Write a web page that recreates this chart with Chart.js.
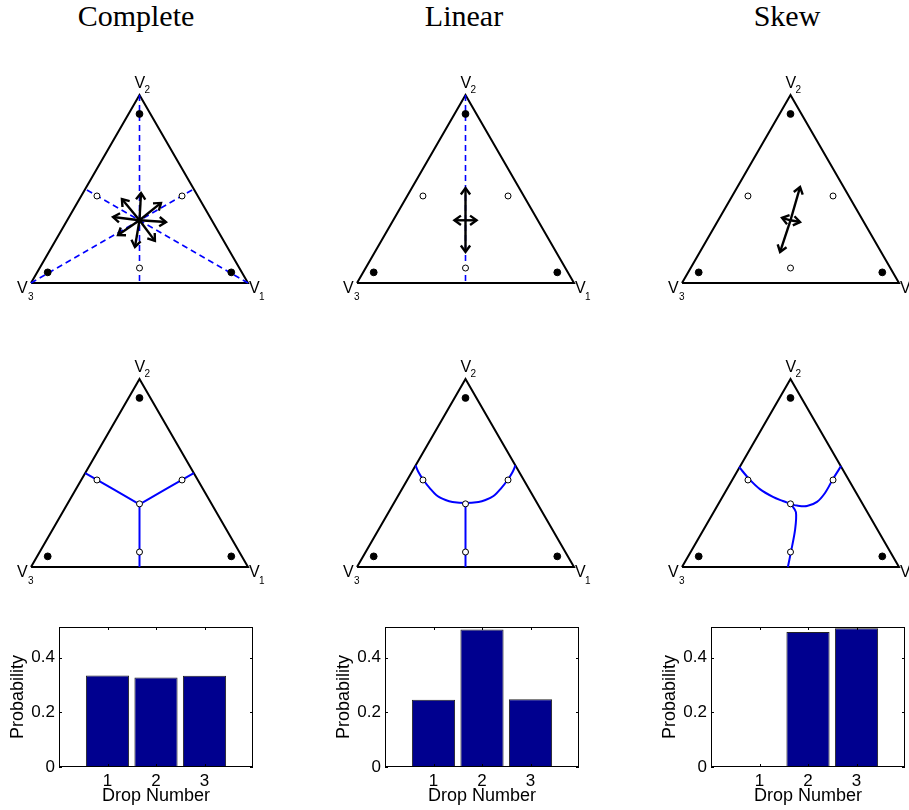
<!DOCTYPE html>
<html>
<head>
<meta charset="utf-8">
<script src="https://cdn.jsdelivr.net/npm/chart.js@4.4.0/dist/chart.umd.min.js"></script>
<style>
  body { margin: 0; background: #fff; }
  #fig { position: relative; width: 909px; height: 810px; overflow: hidden; background: #fff; }
  .title { position: absolute; top: -1px; width: 300px; text-align: center; font-family: "Liberation Serif", serif; font-size: 30px; line-height: 34px; color: #000; }
  canvas { position: absolute; }
</style>
</head>
<body>
<div id="fig">
  <div class="title" style="left:-14px">Complete</div>
  <div class="title" style="left:314px">Linear</div>
  <div class="title" style="left:637px">Skew</div>
</div>
<script>
// ---- data (triangle coords: V3=(0,0), V1=(1,0), V2=(0.5,0.866)) ----
const vertices = [[0, 0], [1, 0], [0.5, 0.866], [0, 0]];
const centroid = [0.5, 0.289];
const cornerDots = [[0.5, 0.779], [0.077, 0.049], [0.923, 0.049]];
const sampleCircles = [[0.304, 0.401], [0.696, 0.401], [0.5, 0.069]];
const sampleCirclesRow2 = [[0.304, 0.401], [0.696, 0.401], [0.5, 0.069], [0.5, 0.291]];

const completeMedians = [[[0.5, 0.866], [0.5, 0]], [[0, 0], [0.75, 0.433]], [[1, 0], [0.25, 0.433]]];
const linearMedians = [[[0.5, 0.866], [0.5, 0]]];

// arrow tips, each arrow drawn from the centroid
const completeArrows = [[0.507, 0.415], [0.419, 0.387], [0.599, 0.369], [0.378, 0.304],
                        [0.622, 0.281], [0.401, 0.221], [0.479, 0.166], [0.571, 0.194]];
const linearArrows = [[0.5, 0.438], [0.5, 0.143], [0.449, 0.289], [0.551, 0.289]];
const skewArrows = [[0.544, 0.442], [0.452, 0.143], [0.461, 0.300], [0.544, 0.281]];

// decision boundaries (second row)
const completeBoundary = [[[0.5, 0.289], [0.25, 0.433]], [[0.5, 0.289], [0.75, 0.433]], [[0.5, 0.289], [0.5, 0]]];
const linearBoundary = [
  [[0.27, 0.468], [0.283, 0.438], [0.306, 0.401], [0.339, 0.359], [0.371, 0.327], [0.408, 0.309], [0.44, 0.300],
   [0.5, 0.295], [0.56, 0.300], [0.592, 0.309], [0.629, 0.327], [0.661, 0.359], [0.694, 0.401], [0.717, 0.438], [0.73, 0.468]],
  [[0.5, 0.295], [0.5, 0]]
];
const skewBoundary = [
  [[0.263, 0.461], [0.309, 0.406], [0.359, 0.359], [0.419, 0.323], [0.465, 0.304], [0.502, 0.290]],
  [[0.502, 0.290], [0.530, 0.283], [0.576, 0.281], [0.622, 0.300], [0.659, 0.341], [0.696, 0.406], [0.733, 0.465]],
  [[0.502, 0.290], [0.525, 0.253], [0.521, 0.171], [0.502, 0.069], [0.488, 0]]
];

// bar charts
const dropNumbers = [1, 2, 3];
const probTicks = [0, 0.2, 0.4];
const completeProb = [0.335, 0.327, 0.334];
const linearProb = [0.246, 0.503, 0.248];
const skewProb = [0.003, 0.494, 0.507];

const fig = document.getElementById('fig');
const S = 217; // px per unit of triangle side

function makeCanvas(left, top, w, h) {
  const c = document.createElement('canvas');
  c.width = w; c.height = h;
  c.style.left = left + 'px'; c.style.top = top + 'px';
  fig.appendChild(c);
  return c;
}

const pts = a => a.map(p => ({ x: p[0], y: p[1] }));

const triPlugin = {
  id: 'tri',
  afterDatasetsDraw(chart, args, opts) {
    const { ctx, scales: { x, y } } = chart;
    const cx = x.getPixelForValue(centroid[0]), cy = y.getPixelForValue(centroid[1]);
    ctx.save();
    ctx.strokeStyle = '#000';
    ctx.lineWidth = 2.4;
    ctx.lineJoin = 'miter';
    (opts.arrows || []).forEach(t => {
      const px = x.getPixelForValue(t[0]), py = y.getPixelForValue(t[1]);
      const a = Math.atan2(py - cy, px - cx);
      ctx.beginPath();
      ctx.moveTo(px - 8 * Math.cos(a - 0.62), py - 8 * Math.sin(a - 0.62));
      ctx.lineTo(px, py);
      ctx.lineTo(px - 8 * Math.cos(a + 0.62), py - 8 * Math.sin(a + 0.62));
      ctx.stroke();
    });
    // vertex labels
    ctx.fillStyle = '#000';
    const lab = (v, sub, dx, dy, sdx, sdy) => {
      const px = x.getPixelForValue(v[0]), py = y.getPixelForValue(v[1]);
      ctx.font = '16px "Liberation Sans", Arial, sans-serif';
      ctx.textAlign = 'left'; ctx.textBaseline = 'alphabetic';
      ctx.fillText('V', px + dx, py + dy);
      ctx.font = '10px "Liberation Sans", Arial, sans-serif';
      ctx.fillText(sub, px + sdx, py + sdy);
    };
    lab(vertices[0], '3', -14, 10, -3, 17);
    lab(vertices[1], '1', 1, 10, 11, 17);
    lab(vertices[2], '2', -5, -7, 5, -2);
    ctx.restore();
  }
};

function triangleChart(left, bottom, cfg) {
  const canvas = makeCanvas(left - 30, bottom - 230, 300, 270);
  const datasets = [];
  datasets.push({ data: pts(cornerDots), pointRadius: 3.4, pointBackgroundColor: '#000', pointBorderColor: '#000', showLine: false });
  datasets.push({ data: pts(cfg.circles), pointRadius: 3, pointBackgroundColor: '#fff', pointBorderColor: '#000', pointBorderWidth: 1, showLine: false });
  (cfg.arrows || []).forEach(t => datasets.push({ data: pts([centroid, t]), showLine: true, borderColor: '#000', borderWidth: 2.4, pointRadius: 0 }));
  (cfg.curves || []).forEach(c => datasets.push({ data: pts(c), showLine: true, borderColor: '#0000ff', borderWidth: 2, pointRadius: 0, tension: 0.3 }));
  (cfg.medians || []).forEach(m => datasets.push({ data: pts(m), showLine: true, borderColor: '#0000ff', borderWidth: 1.6, borderDash: [6, 4], pointRadius: 0 }));
  datasets.push({ data: pts(vertices), showLine: true, borderColor: '#000', borderWidth: 2, borderJoinStyle: 'miter', pointRadius: 0 });

  new Chart(canvas, {
    type: 'scatter',
    data: { datasets },
    options: {
      responsive: false,
      animation: false,
      layout: { padding: 0, autoPadding: false },
      plugins: { legend: { display: false }, tooltip: { enabled: false }, tri: { arrows: cfg.arrows } },
      scales: {
        x: { type: 'linear', display: false, min: -30 / S, max: 270 / S },
        y: { type: 'linear', display: false, min: -40 / S, max: 230 / S }
      }
    },
    plugins: [triPlugin]
  });
}

const boxPlugin = {
  id: 'box',
  afterDraw(chart) {
    const { ctx, chartArea: a, scales: { x, y } } = chart;
    ctx.save();
    ctx.strokeStyle = '#000';
    ctx.lineWidth = 1;
    ctx.strokeRect(Math.round(a.left) + 0.5, Math.round(a.top) + 0.5, Math.round(a.right - a.left) - 1, Math.round(a.bottom - a.top) - 1);
    ctx.beginPath();
    x.ticks.forEach(t => {
      const p = Math.round(x.getPixelForValue(t.value)) + 0.5;
      ctx.moveTo(p, a.bottom); ctx.lineTo(p, a.bottom - 3);
      ctx.moveTo(p, a.top); ctx.lineTo(p, a.top + 3);
    });
    y.ticks.forEach(t => {
      const p = Math.round(y.getPixelForValue(t.value)) + 0.5;
      ctx.moveTo(a.left, p); ctx.lineTo(a.left + 3, p);
      ctx.moveTo(a.right, p); ctx.lineTo(a.right - 3, p);
    });
    ctx.stroke();
    ctx.restore();
  }
};

const axFont = { family: '"Liberation Sans", Arial, sans-serif', size: 17 };
const titleFont = { family: '"Liberation Sans", Arial, sans-serif', size: 18 };

function barChart(axLeft, values) {
  const canvas = makeCanvas(axLeft - 59, 610, 256, 200);
  new Chart(canvas, {
    type: 'bar',
    data: {
      datasets: [{
        data: dropNumbers.map((d, i) => ({ x: d, y: values[i] })),
        backgroundColor: '#00008f',
        borderColor: '#222',
        borderWidth: 1,
        barPercentage: 0.89,
        categoryPercentage: 1
      }]
    },
    options: {
      responsive: false,
      animation: false,
      layout: { padding: { top: 17, right: 3, left: 0, bottom: 0 }, autoPadding: false },
      plugins: { legend: { display: false }, tooltip: { enabled: false } },
      scales: {
        x: {
          type: 'linear', min: 0, max: 4, offset: false,
          grid: { display: false, drawTicks: false },
          border: { display: false },
          afterBuildTicks: s => { s.ticks = dropNumbers.map(v => ({ value: v })); },
          afterFit: s => { s.height = 43; },
          ticks: { padding: 4, color: '#000', font: axFont, maxRotation: 0, autoSkip: false, callback: v => String(v) },
          title: { display: true, text: 'Drop Number', color: '#000', font: titleFont, padding: { top: 0, bottom: 3 } }
        },
        y: {
          type: 'linear', min: 0, max: 0.512,
          grid: { display: false, drawTicks: false },
          border: { display: false },
          afterBuildTicks: s => { s.ticks = probTicks.map(v => ({ value: v })); },
          afterFit: s => { s.width = 59; },
          ticks: { padding: 4, color: '#000', font: axFont, callback: v => (v === 0 ? '0' : v.toFixed(1)) },
          title: { display: true, text: 'Probability', color: '#000', font: titleFont, padding: { top: 7, bottom: 0 } }
        }
      }
    },
    plugins: [boxPlugin]
  });
}

const triLefts = [31, 356.5, 682];
triangleChart(triLefts[0], 283, { circles: sampleCircles, medians: completeMedians, arrows: completeArrows });
triangleChart(triLefts[1], 283, { circles: sampleCircles, medians: linearMedians, arrows: linearArrows });
triangleChart(triLefts[2], 283, { circles: sampleCircles, arrows: skewArrows });

triangleChart(triLefts[0], 567, { circles: sampleCirclesRow2, curves: completeBoundary });
triangleChart(triLefts[1], 567, { circles: sampleCirclesRow2, curves: linearBoundary });
triangleChart(triLefts[2], 567, { circles: sampleCirclesRow2, curves: skewBoundary });

barChart(59, completeProb);
barChart(385, linearProb);
barChart(711, skewProb);
</script>
</body>
</html>
